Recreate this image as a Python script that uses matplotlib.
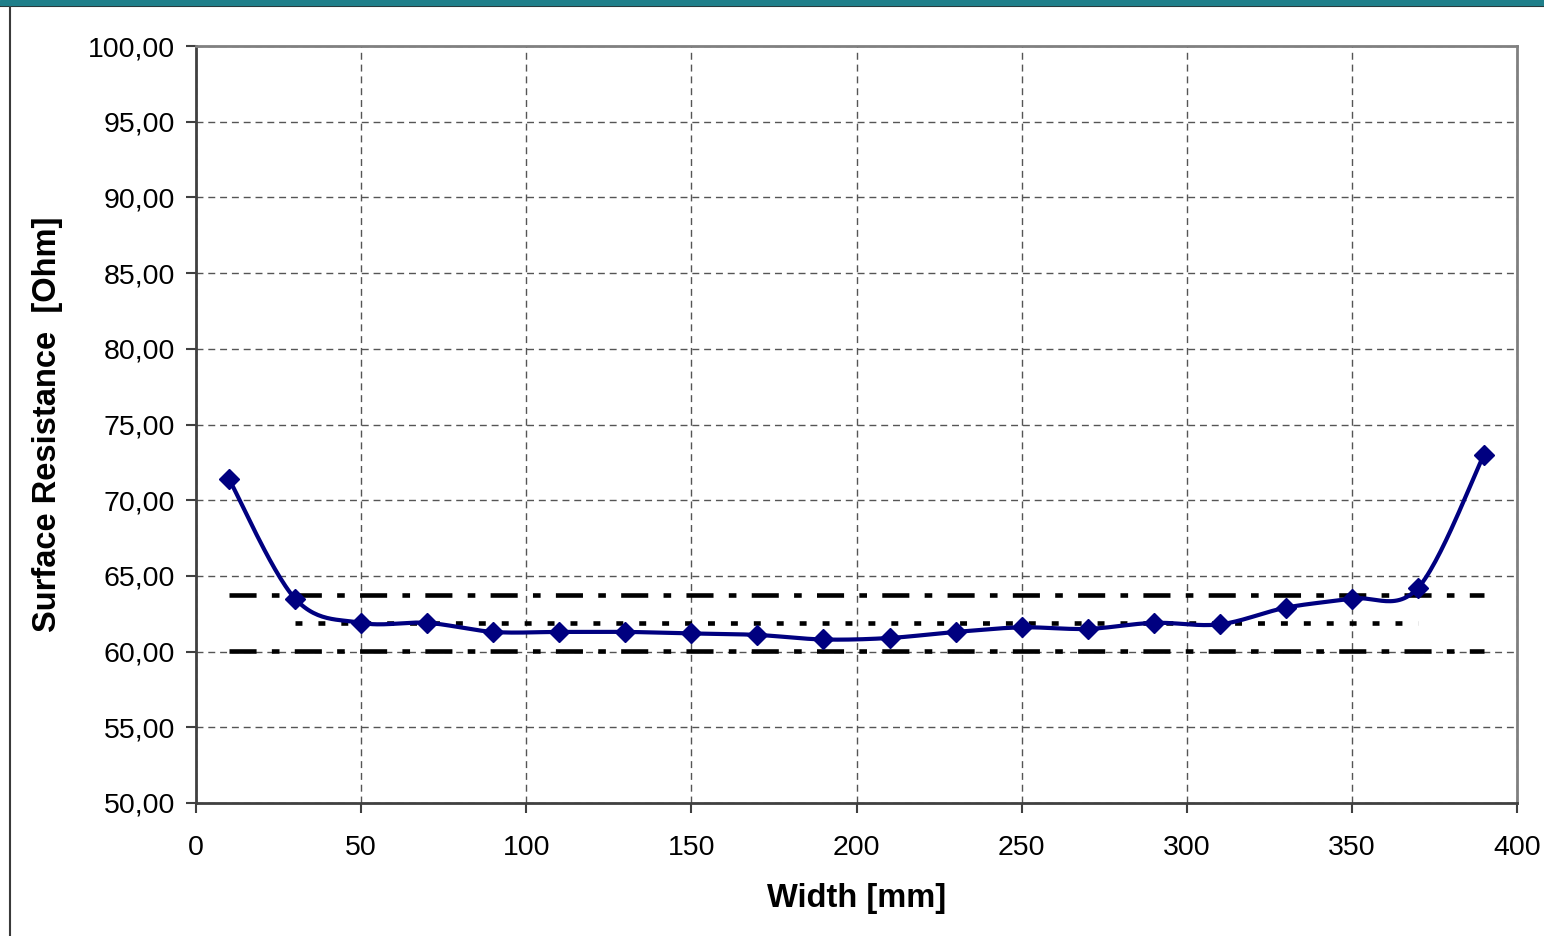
import numpy as np
import matplotlib.pyplot as plt
from matplotlib.ticker import FuncFormatter, MultipleLocator

plt.rcParams['font.family'] = ['Liberation Sans', 'DejaVu Sans']
plt.rcParams['lines.scale_dashes'] = False

# measured values along the width
width_mm = [10, 30, 50, 70, 90, 110, 130, 150, 170, 190,
            210, 230, 250, 270, 290, 310, 330, 350, 370, 390]
resistance = [71.4, 63.5, 61.9, 61.9, 61.3, 61.3, 61.3, 61.2, 61.1, 60.8,
              60.9, 61.3, 61.6, 61.5, 61.9, 61.8, 62.9, 63.5, 64.2, 73.0]

# mean of the inner points and +/- 3 % band
inner = resistance[1:-1]
mean_val = sum(inner) / len(inner)
upper_val = mean_val * 1.03
lower_val = mean_val * 0.97


def smooth(xs, ys, n=30):
    # excel-like smoothed line (bezier through the points)
    xs = np.asarray(xs, float)
    ys = np.asarray(ys, float)
    px, py = [], []
    for i in range(len(xs) - 1):
        x0, y0 = (xs[i - 1], ys[i - 1]) if i > 0 else (xs[i], ys[i])
        x1, y1 = xs[i], ys[i]
        x2, y2 = xs[i + 1], ys[i + 1]
        x3, y3 = (xs[i + 2], ys[i + 2]) if i + 2 < len(xs) else (x2, y2)
        c1 = (x1 + (x2 - x0) / 6, y1 + (y2 - y0) / 6)
        c2 = (x2 - (x3 - x1) / 6, y2 - (y3 - y1) / 6)
        t = np.linspace(0, 1, n)
        px.extend((1 - t) ** 3 * x1 + 3 * (1 - t) ** 2 * t * c1[0] + 3 * (1 - t) * t ** 2 * c2[0] + t ** 3 * x2)
        py.extend((1 - t) ** 3 * y1 + 3 * (1 - t) ** 2 * t * c1[1] + 3 * (1 - t) * t ** 2 * c2[1] + t ** 3 * y2)
    return px, py


fig = plt.figure(figsize=(15.44, 9.36), dpi=100)
ax = fig.add_axes([196 / 1544, 1 - 803 / 936, (1517 - 196) / 1544, (803 - 46) / 936])

ax.set_xlim(0, 400)
ax.set_ylim(50, 100)
ax.xaxis.set_major_locator(MultipleLocator(50))
ax.yaxis.set_major_locator(MultipleLocator(5))
ax.yaxis.set_major_formatter(FuncFormatter(lambda v, p: f"{v:.2f}".replace('.', ',')))
ax.grid(True, color='#555555', linestyle=(0, (5, 3.5)), linewidth=1)
ax.set_axisbelow(True)

for s in ax.spines.values():
    s.set_color('#808080')
    s.set_linewidth(2)
ax.spines['left'].set_color('#404040')
ax.spines['bottom'].set_color('#404040')
ax.tick_params(length=7, width=1.5, color='#404040', labelsize=20.5)
ax.tick_params(axis='y', pad=8)
ax.tick_params(axis='x', pad=16)

dashdot = (0, (19.5, 11, 5.5, 11))
ax.plot([width_mm[0], width_mm[-1]], [upper_val, upper_val], color='black', lw=3.3, linestyle=dashdot)
ax.plot([width_mm[0], width_mm[-1]], [lower_val, lower_val], color='black', lw=3.3, linestyle=dashdot)
ax.plot([width_mm[1], width_mm[-2]], [mean_val, mean_val], color='black', lw=3.3, linestyle=(0, (5, 11.5)))

sx, sy = smooth(width_mm, resistance)
ax.plot(sx, sy, color='#000080', lw=3)
ax.plot(width_mm, resistance, linestyle='none', marker='D', markersize=10, color='#000080')

ax.set_xlabel('Width [mm]', fontsize=23.5, fontweight='bold', labelpad=16)
ax.set_ylabel('Surface Resistance  [Ohm]', fontsize=23.5, fontweight='bold', labelpad=18)

# frame bits around the chart
fig.patches.append(plt.Rectangle((0, 1 - 5 / 936), 1, 5 / 936, transform=fig.transFigure,
                                 color='#1f7f8a', zorder=5))
fig.lines.append(plt.Line2D([0, 1], [1 - 6 / 936, 1 - 6 / 936], transform=fig.transFigure,
                            color='#2b2b2b', lw=1.5))
fig.lines.append(plt.Line2D([10 / 1544, 10 / 1544], [0, 1 - 6 / 936], transform=fig.transFigure,
                            color='#3a3a3a', lw=1.5))

fig.savefig('out.png', dpi=100)
